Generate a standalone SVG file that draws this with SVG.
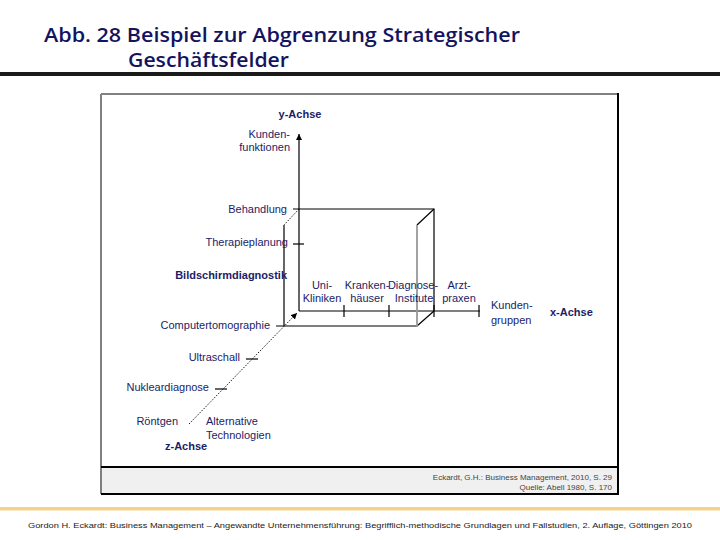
<svg xmlns="http://www.w3.org/2000/svg" width="720" height="540" viewBox="0 0 720 540">
<style>
.t{font-family:"Liberation Sans",Arial,sans-serif;fill:#1c1c66;font-size:11px}
.b{font-weight:bold}
.r{text-anchor:end}
.c{text-anchor:middle}
.ln{stroke:#000;stroke-width:1.2;fill:none}
.dot{stroke:#000;stroke-width:0.9;stroke-dasharray:1.5 1.5;fill:none}
.ttl{font-family:"Open Sans","Liberation Sans",Arial,sans-serif;font-weight:600;font-size:20px;fill:#14145e}
</style>
<defs>
<marker id="ah" markerWidth="8" markerHeight="8" refX="6" refY="3" orient="auto" markerUnits="userSpaceOnUse"><path d="M0,0 L6,3 L0,6 z" fill="#000"/></marker>
</defs>
<rect width="720" height="540" fill="#fff"/>
<g id="title">
<text class="ttl" x="44" y="42" textLength="476" lengthAdjust="spacingAndGlyphs">Abb. 28 Beispiel zur Abgrenzung Strategischer</text>
<text class="ttl" x="128" y="67" textLength="161" lengthAdjust="spacingAndGlyphs">Geschäftsfelder</text>
<rect x="0" y="72" width="720" height="4" fill="#1a1a1a"/>
</g>
<g id="frame">
<rect x="101" y="94" width="517" height="400" fill="#fff"/>
<rect x="101" y="467" width="517" height="27" fill="#f0f0f0"/>
<line x1="101" y1="94" x2="618" y2="94" stroke="#808080" stroke-width="2"/>
<line x1="101" y1="94" x2="101" y2="494" stroke="#808080" stroke-width="2"/>
<line x1="618" y1="93" x2="618" y2="495" stroke="#000" stroke-width="2"/>
<line x1="101" y1="494" x2="619" y2="494" stroke="#000" stroke-width="2"/>
<line x1="101" y1="467" x2="618" y2="467" stroke="#000" stroke-width="2"/>
<text x="612" y="480" font-family="'Liberation Sans',Arial,sans-serif" font-size="8" fill="#444" text-anchor="end">Eckardt, G.H.: Business Management, 2010, S. 29</text>
<text x="612" y="490" font-family="'Liberation Sans',Arial,sans-serif" font-size="8" fill="#444" text-anchor="end">Quelle: Abell 1980, S. 170</text>
</g>
<g id="connectors">
<line class="ln" x1="299" y1="311" x2="299" y2="134" marker-end="url(#ah)"/>
<line class="ln" x1="299" y1="311" x2="480" y2="311"/>
<line class="dot" x1="189" y1="424" x2="297" y2="313" marker-end="url(#ah)"/>
<polyline class="ln" points="293,209 434,209 434,311"/>
<line class="dot" x1="299" y1="209" x2="284" y2="225"/>
<line class="ln" x1="434" y1="209" x2="417" y2="225"/>
<line class="ln" x1="434" y1="311" x2="417" y2="326"/>
<line class="ln" x1="284" y1="225" x2="284" y2="326"/>
<line class="ln" x1="276" y1="326" x2="417" y2="326"/>
<line x1="417" y1="225" x2="417" y2="327" stroke="#999" stroke-width="1.8"/>
<line class="ln" x1="293" y1="244" x2="304" y2="244"/>
<line class="ln" x1="344" y1="305" x2="344" y2="317"/>
<line class="ln" x1="389" y1="305" x2="389" y2="317"/>
<line class="ln" x1="434" y1="305" x2="434" y2="317"/>
<line class="ln" x1="479" y1="305" x2="479" y2="317"/>
<line class="ln" x1="246" y1="359" x2="258" y2="359"/>
<line class="ln" x1="215" y1="389" x2="227" y2="389"/>
</g>
<g id="labels-y">
<text class="t b c" x="300" y="118">y-Achse</text>
<text class="t r" x="290" y="138">Kunden-</text>
<text class="t r" x="290" y="151">funktionen</text>
<text class="t r" x="287" y="213">Behandlung</text>
<text class="t r" x="288" y="246">Therapieplanung</text>
<text class="t r b" x="287" y="279">Bildschirmdiagnostik</text>
</g>
<g id="labels-x">
<text class="t c" x="322" y="289">Uni-</text>
<text class="t c" x="322" y="302">Kliniken</text>
<text class="t c" x="367" y="289">Kranken-</text>
<text class="t c" x="367" y="302">häuser</text>
<text class="t c" x="413" y="289">Diagnose-</text>
<text class="t c" x="414" y="302">Institute</text>
<text class="t c" x="459" y="289">Arzt-</text>
<text class="t c" x="459" y="302">praxen</text>
<text class="t" x="491" y="309">Kunden-</text>
<text class="t" x="491" y="324">gruppen</text>
<text class="t b" x="550" y="316">x-Achse</text>
</g>
<g id="labels-z">
<text class="t r" x="270" y="329">Computertomographie</text>
<text class="t r" x="240" y="361">Ultraschall</text>
<text class="t r" x="209" y="391">Nukleardiagnose</text>
<text class="t r" x="178" y="425">Röntgen</text>
<text class="t" x="206" y="425">Alternative</text>
<text class="t" x="206" y="439">Technologien</text>
<text class="t b" x="165" y="450">z-Achse</text>
</g>
<g id="footer">
<rect x="0" y="507" width="720" height="3.5" fill="#f3d28c"/>
<text x="360" y="528" font-family="'Liberation Sans',Arial,sans-serif" font-size="8" fill="#222" text-anchor="middle" textLength="664" lengthAdjust="spacingAndGlyphs">Gordon H. Eckardt: Business Management – Angewandte Unternehmensführung: Begrifflich-methodische Grundlagen und Fallstudien, 2. Auflage, Göttingen 2010</text>
</g>
</svg>
